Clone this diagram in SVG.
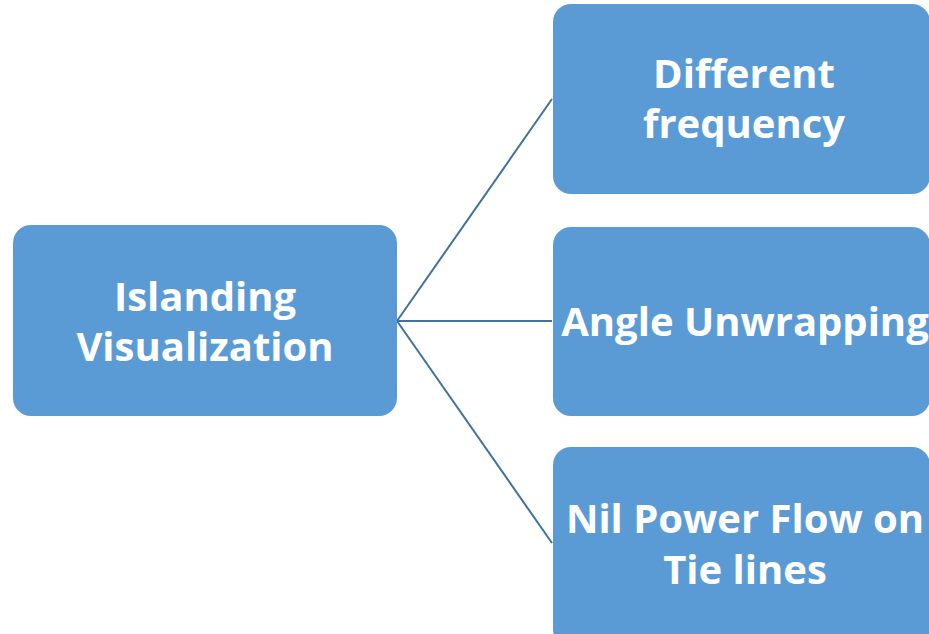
<svg xmlns="http://www.w3.org/2000/svg" width="929" height="634" viewBox="0 0 929 634">
<style>
.box{fill:#5B9BD5;}
.t{font-family:"Open Sans","Liberation Sans",sans-serif;font-weight:bold;font-size:40px;fill:#FFFFFF;text-anchor:middle;}
.c{stroke:#41719C;stroke-width:2;fill:none;}
</style>
<rect width="929" height="634" fill="#FFFFFF"/>
<g id="connectors">
<line class="c" x1="397" y1="321" x2="552" y2="99"/>
<line class="c" x1="397" y1="321" x2="552" y2="321"/>
<line class="c" x1="397" y1="321" x2="552" y2="543"/>
</g>
<g id="islanding">
<rect class="box" x="13" y="225" width="384" height="191" rx="18"/>
<text class="t" x="205" y="311">Islanding</text>
<text class="t" x="205" y="361">Visualization</text>
</g>
<g id="frequency">
<rect class="box" x="553" y="4" width="377" height="190" rx="18"/>
<text class="t" x="744" y="88">Different</text>
<text class="t" x="744" y="138">frequency</text>
</g>
<g id="angle">
<rect class="box" x="553" y="227" width="377" height="189" rx="18"/>
<text class="t" x="745" y="336">Angle Unwrapping</text>
</g>
<g id="nilpower">
<rect class="box" x="553" y="447" width="377" height="200" rx="18"/>
<text class="t" x="745" y="533">Nil Power Flow on</text>
<text class="t" x="745" y="584">Tie lines</text>
</g>
</svg>
